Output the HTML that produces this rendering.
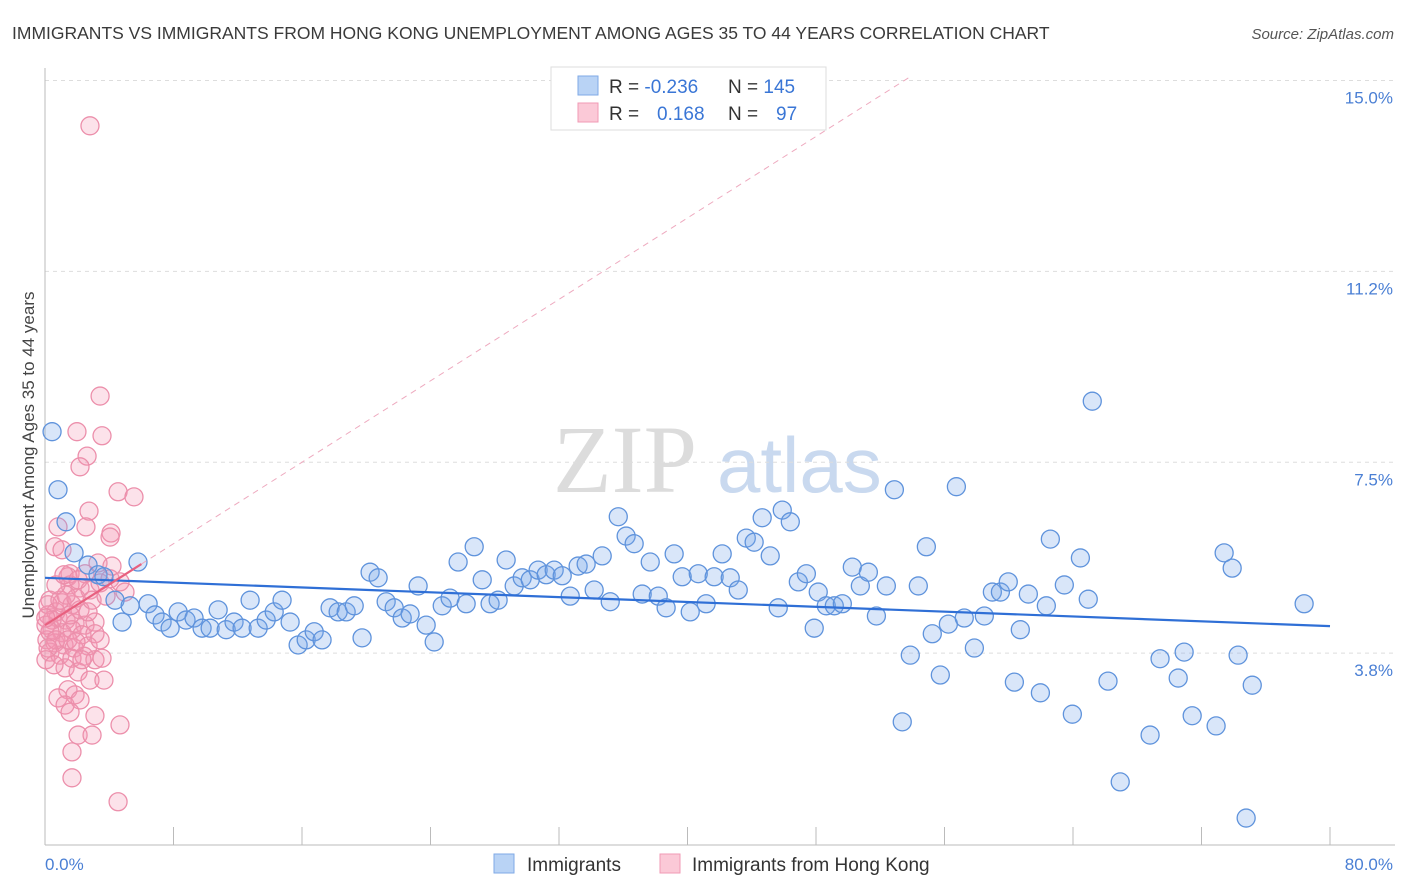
<!DOCTYPE html>
<html><head><meta charset="utf-8"><style>
body{margin:0;background:#fff;font-family:"Liberation Sans",sans-serif;}
svg{display:block}
</style></head><body>
<svg id="chart" width="1406" height="892">
<text x="12" y="39" font-size="17.5" fill="#3a3a3a">IMMIGRANTS VS IMMIGRANTS FROM HONG KONG UNEMPLOYMENT AMONG AGES 35 TO 44 YEARS CORRELATION CHART</text>
<text x="1394" y="39" font-size="15" fill="#555" font-style="italic" text-anchor="end">Source: ZipAtlas.com</text>
<g>
<text x="553" y="492" font-size="96" font-family="Liberation Serif,serif" fill="#dcdcdc">ZIP</text>
<text x="717" y="492" font-size="78" fill="#c9d9ef">atlas</text>
</g>
<g id="grid"></g><g id="axes"></g><g id="pts"></g><g id="trend"></g>
<text transform="translate(34,455) rotate(-90)" font-size="17" fill="#444" text-anchor="middle">Unemployment Among Ages 35 to 44 years</text>
<text x="45" y="870" font-size="17" fill="#4a7fd4">0.0%</text>
<text x="1393" y="870" font-size="17" fill="#4a7fd4" text-anchor="end">80.0%</text>
<g>
<rect x="551" y="67" width="275" height="63" fill="#fff" stroke="#ddd"/>
<rect x="578" y="76" width="20" height="19" fill="#b9d3f5" stroke="#7fa9e6"/>
<rect x="578" y="103" width="20" height="19" fill="#fbc9d7" stroke="#f09ab4"/>
<text x="609" y="93" font-size="19" fill="#333">R = <tspan fill="#3a76d6">-0.236</tspan><tspan x="728">N = </tspan><tspan fill="#3a76d6">145</tspan></text>
<text x="609" y="120" font-size="19" fill="#333">R = <tspan x="657" fill="#3a76d6">0.168</tspan><tspan x="728">N = </tspan><tspan x="776" fill="#3a76d6">97</tspan></text>
</g>
<g>
<rect x="494" y="854" width="20" height="19" fill="#b9d3f5" stroke="#7fa9e6"/>
<text x="527" y="871" font-size="19" fill="#333">Immigrants</text>
<rect x="660" y="854" width="20" height="19" fill="#fbc9d7" stroke="#f09ab4"/>
<text x="692" y="871" font-size="19" fill="#333">Immigrants from Hong Kong</text>
</g>
</svg>
<script>
const yTicks=[15,11.25,7.5,3.75];
const yTickLabels=["15.0%","11.2%","7.5%","3.8%"];
const xTicks=[0,8,16,24,32,40,48,56,64,72,80];
const blueX=[0.44,0.81,1.31,1.81,2.68,3.30,3.67,4.36,4.80,5.30,5.79,6.42,6.85,7.29,7.79,8.29,8.78,9.28,9.78,10.28,10.78,11.28,11.77,12.27,12.77,13.27,13.77,14.27,14.76,15.26,15.76,16.26,16.76,17.25,17.75,18.25,18.75,19.25,19.74,20.24,20.74,21.24,21.74,22.24,22.73,23.23,23.73,24.23,24.73,25.22,25.72,26.22,26.72,27.22,27.71,28.21,28.71,29.21,29.71,30.21,30.70,31.20,31.70,32.20,32.70,33.19,33.69,34.19,34.69,35.19,35.69,36.18,36.68,37.18,37.68,38.18,38.67,39.17,39.67,40.17,40.67,41.16,41.66,42.16,42.66,43.16,43.66,44.15,44.65,45.15,45.65,45.90,46.40,46.90,47.40,47.89,48.14,48.64,49.14,49.64,50.26,50.76,51.26,51.76,52.38,52.88,53.37,53.87,54.37,54.87,55.24,55.74,56.24,56.74,57.23,57.86,58.48,58.98,59.48,59.97,60.35,60.72,61.22,61.97,62.34,62.59,63.46,63.96,64.46,64.95,65.20,66.18,66.94,68.80,69.42,70.55,70.92,71.42,72.91,73.41,73.91,74.28,74.78,75.16,78.39];
const blueY=[8.10,6.96,6.33,5.72,5.48,5.29,5.25,4.79,4.36,4.68,5.54,4.72,4.50,4.36,4.24,4.56,4.40,4.44,4.24,4.24,4.60,4.21,4.36,4.24,4.79,4.24,4.40,4.56,4.79,4.36,3.91,4.01,4.17,4.01,4.64,4.56,4.56,4.68,4.05,5.34,5.23,4.76,4.64,4.44,4.52,5.07,4.30,3.97,4.68,4.83,5.54,4.72,5.84,5.19,4.72,4.79,5.58,5.07,5.23,5.19,5.38,5.29,5.38,5.27,4.87,5.46,5.50,4.99,5.66,4.76,6.43,6.05,5.90,4.91,5.54,4.87,4.64,5.70,5.25,4.56,5.31,4.72,5.25,5.70,5.23,4.99,6.01,5.93,6.41,5.66,4.64,6.56,6.33,5.15,5.31,4.24,4.95,4.68,4.68,4.72,5.44,5.07,5.34,4.48,5.07,6.96,2.40,3.71,5.07,5.84,4.13,3.32,4.32,7.02,4.44,3.85,4.48,4.95,4.95,5.15,3.18,4.21,4.91,2.97,4.68,5.99,5.09,2.55,5.62,4.81,8.70,3.20,1.22,2.14,3.64,3.26,3.77,2.52,2.32,5.72,5.42,3.71,0.51,3.12,4.72];
const pinkX=[2.80,3.43,1.99,3.55,2.62,2.18,4.55,5.54,2.74,0.81,2.55,4.11,4.05,0.62,1.06,3.30,1.56,2.49,1.43,4.05,2.18,2.80,3.43,1.56,0.31,1.06,1.68,0.19,0.81,1.31,1.87,2.49,3.11,0.44,1.06,1.68,2.30,3.11,0.12,0.62,1.18,1.81,2.68,3.43,0.31,0.93,1.68,2.43,3.11,3.55,1.25,2.06,2.80,3.67,1.43,1.87,0.81,1.25,2.18,1.56,3.11,2.06,2.93,4.67,1.68,1.68,4.55,0.19,0.68,0.44,0.06,0.31,0.05,0.68,0.19,1.56,2.18,2.68,0.93,1.31,1.93,2.93,0.68,1.18,2.06,0.06,0.56,2.30,4.17,4.67,4.98,3.80,1.43,1.93];
const pinkY=[14.11,8.80,8.10,8.02,7.62,7.41,6.92,6.82,6.54,6.23,6.23,6.11,6.03,5.84,5.78,5.52,5.31,5.31,5.25,5.21,5.03,4.99,5.13,5.09,4.79,4.74,4.70,4.50,4.44,4.40,4.34,4.30,4.36,4.21,4.15,4.21,4.11,4.13,4.01,3.95,3.91,3.85,3.89,4.01,3.77,3.71,3.65,3.69,3.62,3.65,3.46,3.38,3.22,3.22,3.03,2.93,2.87,2.73,2.83,2.59,2.52,2.14,2.14,2.34,1.81,1.30,0.83,4.70,4.56,4.40,4.30,4.17,4.44,4.01,3.85,4.50,4.60,4.56,4.79,4.89,4.83,4.79,5.09,5.29,5.19,3.62,3.52,3.62,5.46,5.15,4.95,4.87,4.01,3.97];
const blueTrend=[5.23,4.28]; // value at x=0 and x=80
const pinkTrend=[4.30,0.2]; // intercept, slope
const NS='http://www.w3.org/2000/svg';
const X=v=>45+v*(1285/80);
const Y=v=>844-v*50.9;
function mk(t,a,p){const e=document.createElementNS(NS,t);for(const k in a)e.setAttribute(k,a[k]);p.appendChild(e);return e;}
const grid=document.getElementById('grid'),axes=document.getElementById('axes'),pts=document.getElementById('pts'),trend=document.getElementById('trend');
yTicks.forEach((v,i)=>{
 const l=mk('line',{x1:45,x2:1395,y1:Y(v),y2:Y(v),stroke:'#ddd','stroke-dasharray':'4,4'},grid);
 
 
 const t=mk('text',{x:1393,y:Y(v)+23,'font-size':17,fill:'#4a7fd4','text-anchor':'end'},grid);
 t.textContent=yTickLabels[i];
 
 
});
const ax=mk('line',{x1:45,x2:45,y1:68,y2:845,stroke:'#bbb'},axes);


const bx=mk('line',{x1:45,x2:1395,y1:845,y2:845,stroke:'#bbb'},axes);


xTicks.forEach(v=>{
 const t=mk('line',{x1:X(v),x2:X(v),y1:827,y2:845,stroke:'#bbb'},axes);
 
 
});
pinkX.forEach((x,i)=>{
 const c=mk('circle',{cx:X(x),cy:Y(pinkY[i]),r:9,fill:'rgba(244,150,178,0.28)',stroke:'#ec8fab','stroke-width':1.3},pts);
 
 
});
blueX.forEach((x,i)=>{
 const c=mk('circle',{cx:X(x),cy:Y(blueY[i]),r:9,fill:'rgba(120,165,235,0.28)',stroke:'#5f93dc','stroke-width':1.3},pts);
 
 
});
const bl=mk('line',{x1:X(0),y1:Y(blueTrend[0]),x2:X(80),y2:Y(blueTrend[1]),stroke:'#2f6fd6','stroke-width':2.2},trend);


const xEnd=(15.1-pinkTrend[0])/pinkTrend[1];
const pd=mk('line',{x1:X(6),y1:Y(pinkTrend[0]+6*pinkTrend[1]),x2:X(xEnd),y2:Y(pinkTrend[0]+xEnd*pinkTrend[1]),stroke:'#eeaabf','stroke-width':1,'stroke-dasharray':'6,5'},trend);


const pl=mk('line',{x1:X(0),y1:Y(pinkTrend[0]),x2:X(6),y2:Y(pinkTrend[0]+6*pinkTrend[1]),stroke:'#e8607f','stroke-width':2.2},trend);


</script>
</body></html>
